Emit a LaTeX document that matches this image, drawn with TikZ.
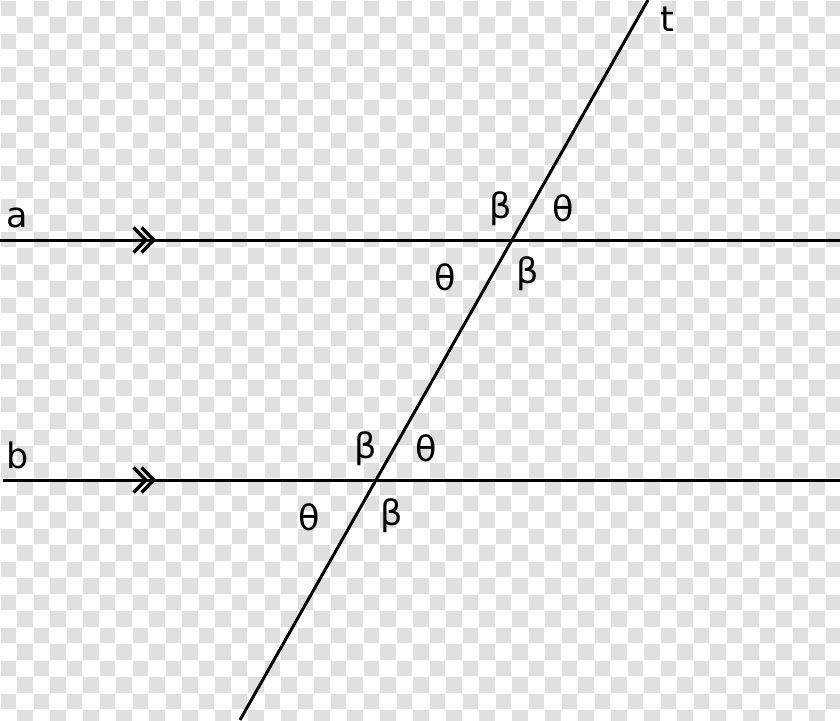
\documentclass[tikz,border=0pt]{standalone}
\usepackage{fontspec}
\setmainfont{DejaVu Sans}
\usepackage{tikz}
\usetikzlibrary{arrows.meta}
\definecolor{checker}{RGB}{224,224,224}

\begin{document}
\begin{tikzpicture}[x=1pt, y=-1pt, line width=3pt,
    every node/.style={font=\fontsize{35}{35}\selectfont, inner sep=0pt},
    chevron/.style={-{Straight Barb[length=12pt,width=25pt,line width=3.4pt]}}]
  % transparent background
  \useasboundingbox (0,0) rectangle (840,720);
  \begin{scope}
  \clip (0,0) rectangle (840,720);
  \foreach \i in {0,...,50}
    \foreach \j in {0,...,43}{
      \pgfmathtruncatemacro\k{mod(\i+\j,2)}
      \ifnum\k=0
        \fill[checker] (\i*16.5+0.5,\j*16.5+0.5) rectangle ++(15.5,15.5);
      \fi
    }
  \end{scope}

  \coordinate (a-w) at (0,240);
  \coordinate (a-e) at (840,240);
  \coordinate (b-w) at (3,480);
  \coordinate (b-e) at (840,480);
  \coordinate (t-s) at (240,720);
  \coordinate (t-n) at (648,0);
  \coordinate (A) at (512,240);
  \coordinate (B) at (376,480);

  \draw (a-w) -- (a-e);
  \draw (b-w) -- (b-e);
  \draw (t-s) -- (t-n);

  % parallel marks
  \coordinate (a-m1) at (148,240);
  \coordinate (a-m2) at (156,240);
  \coordinate (b-m1) at (148,480);
  \coordinate (b-m2) at (156,480);
  \draw[chevron] (a-w) -- (a-m1);
  \draw[chevron] (a-w) -- (a-m2);
  \draw[chevron] (b-w) -- (b-m1);
  \draw[chevron] (b-w) -- (b-m2);

  \node (a-lbl) at (17,218) {a};
  \node (b-lbl) at (18,455) {b};
  \node (t-lbl) at (667,19) {t};

  % angles at a
  \node[xshift=-11pt, yshift=31pt] (A-nw) at (A) {β};
  \node[xshift=51pt, yshift=32pt] (A-ne) at (A) {θ};
  \node[xshift=-67pt, yshift=-37pt] (A-sw) at (A) {θ};
  \node[xshift=16pt, yshift=-34pt] (A-se) at (A) {β};
  % angles at b
  \node[xshift=-10pt, yshift=31pt] (B-nw) at (B) {β};
  \node[xshift=50pt, yshift=32pt] (B-ne) at (B) {θ};
  \node[xshift=-67pt, yshift=-37pt] (B-sw) at (B) {θ};
  \node[xshift=16pt, yshift=-36pt] (B-se) at (B) {β};
\end{tikzpicture}
\end{document}
